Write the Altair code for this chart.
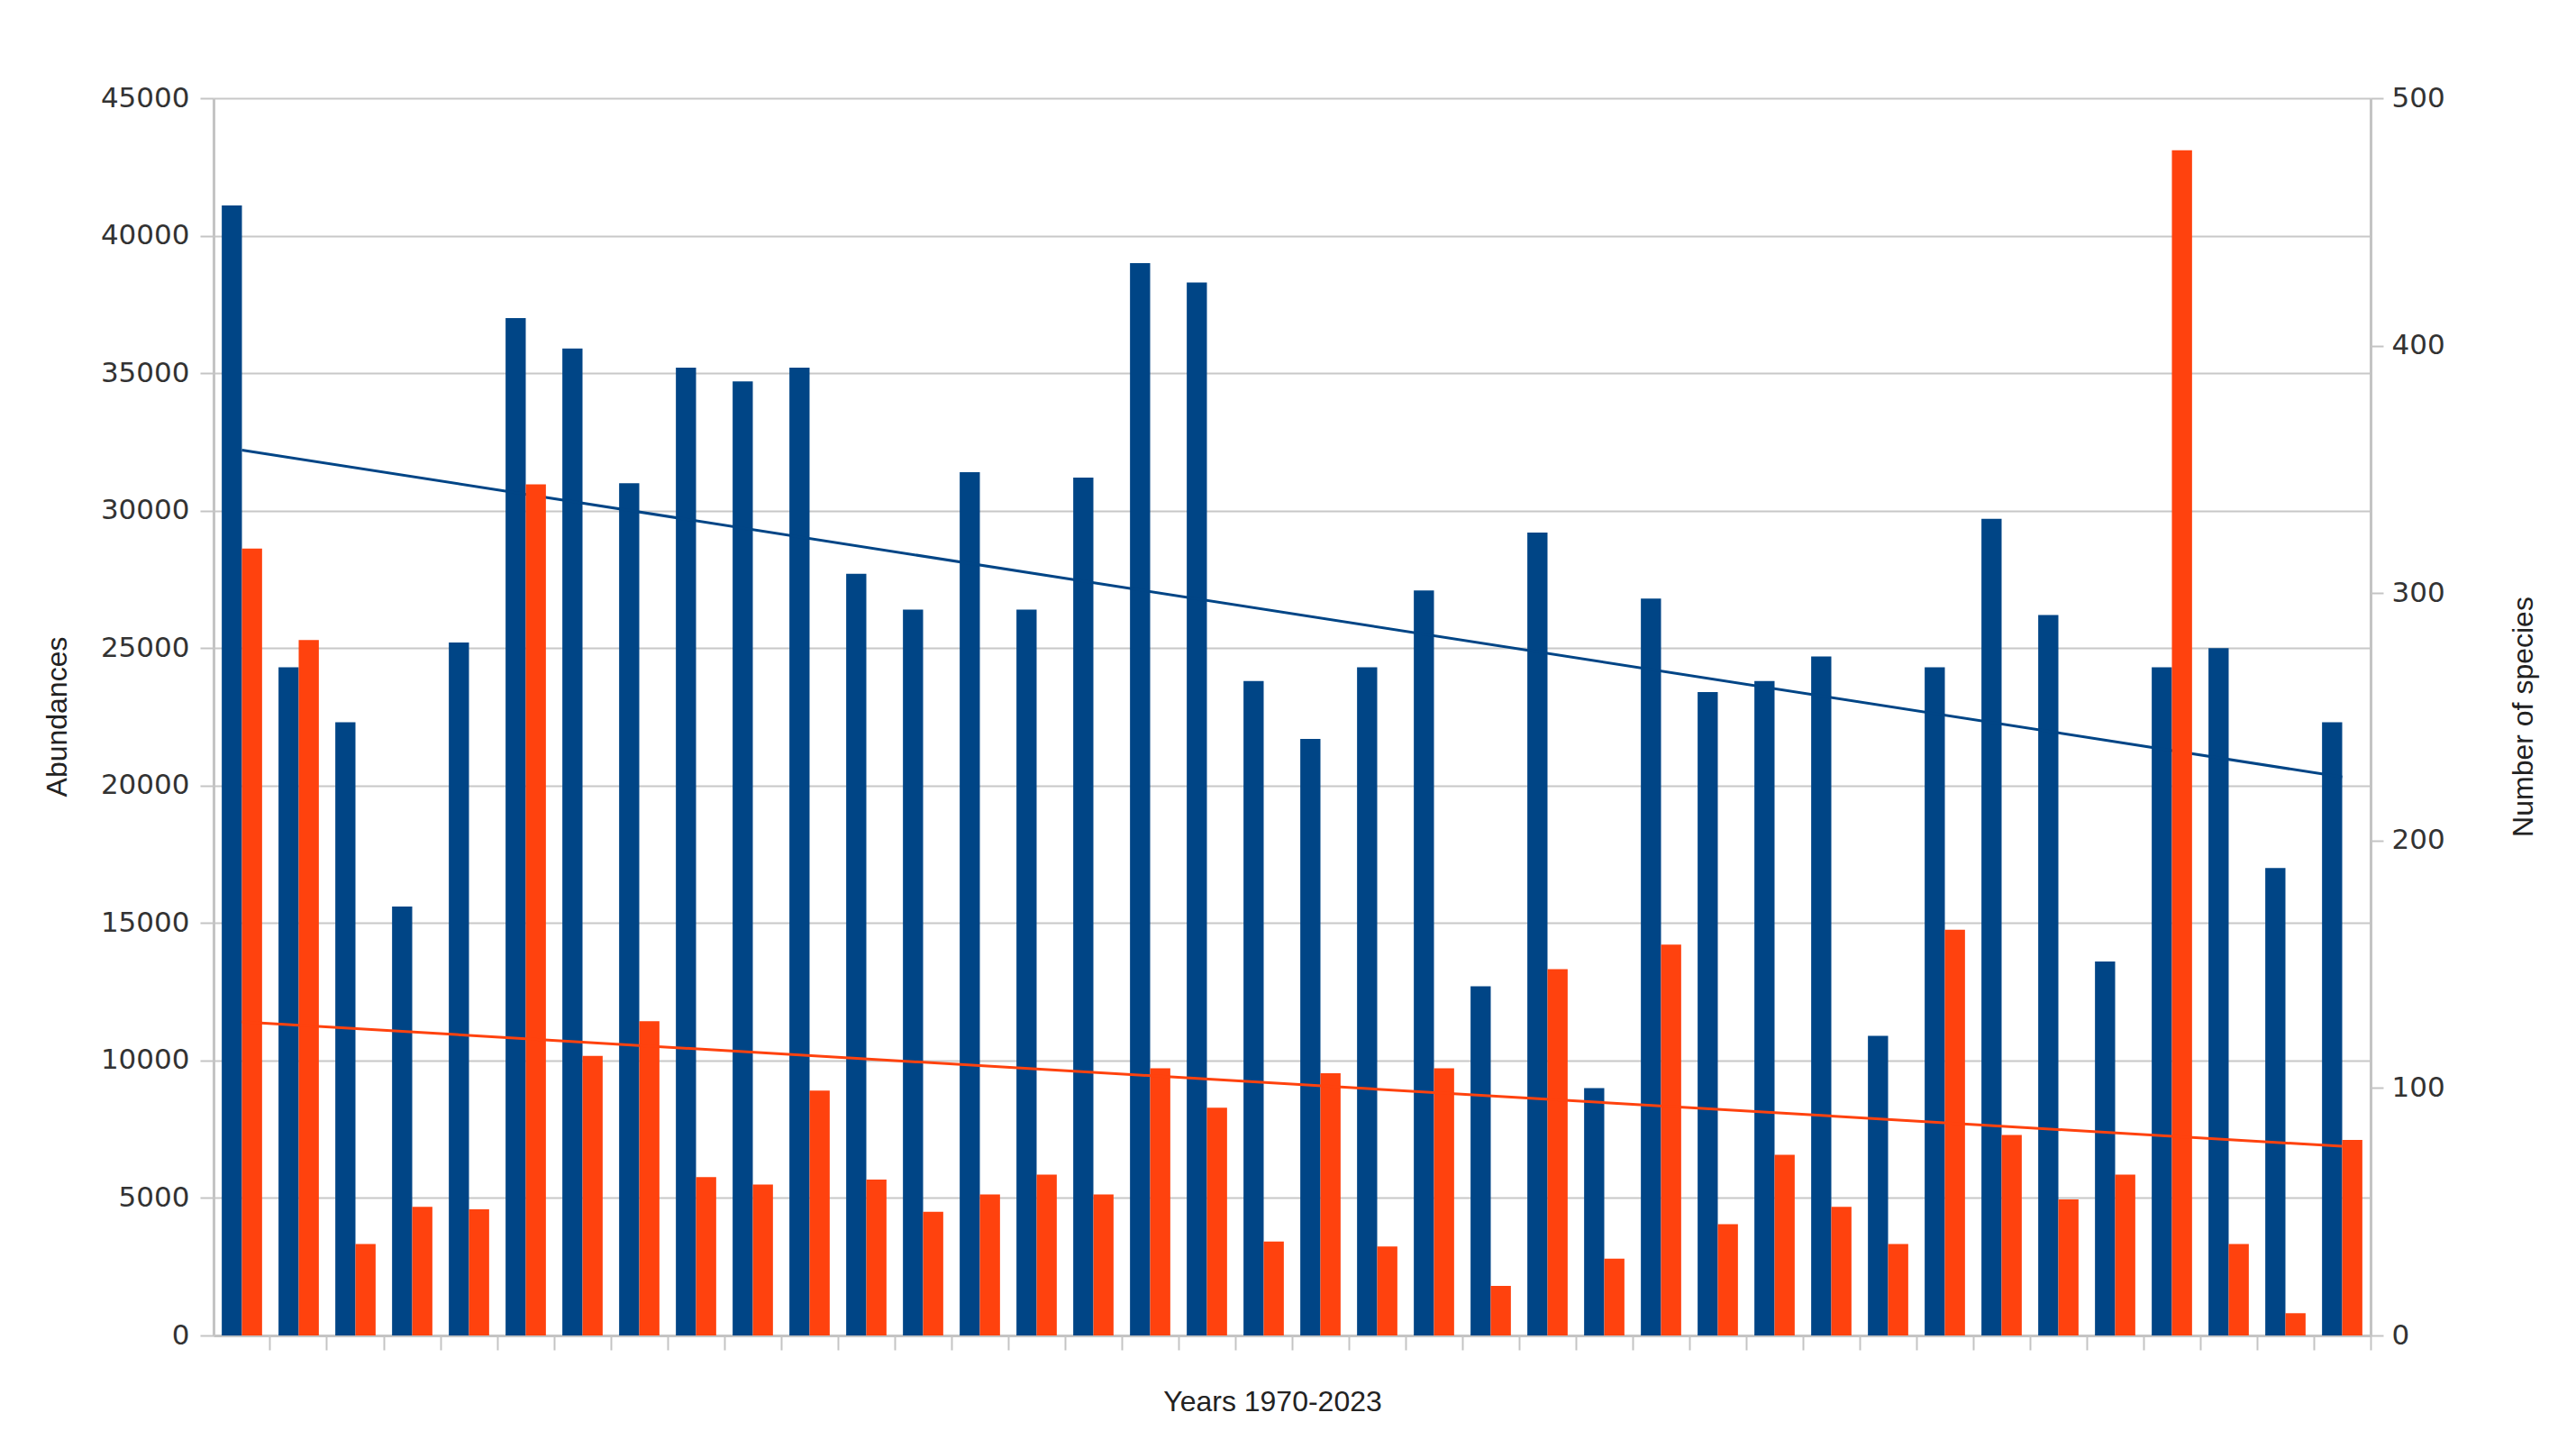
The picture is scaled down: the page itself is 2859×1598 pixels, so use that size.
import altair as alt
import pandas as pd

# 38 yearly groups (1970-2023), no x labels shown on the original
groups = list(range(38))

# Blue series (left axis) - Abundances
abundances = [41100, 24300, 22300, 15600, 25200, 37000, 35900, 31000, 35200, 34700,
              35200, 27700, 26400, 31400, 26400, 31200, 39000, 38300, 23800, 21700,
              24300, 27100, 12700, 29200, 9000, 26800, 23400, 23800, 24700, 10900,
              24300, 29700, 26200, 13600, 24300, 25000, 17000, 22300]

# Orange series (right axis) - Number of species
species = [318, 281, 37, 52, 51, 344, 113, 127, 64, 61,
           99, 63, 50, 57, 65, 57, 108, 92, 38, 106,
           36, 108, 20, 148, 31, 158, 45, 73, 52, 37,
           164, 81, 55, 65, 479, 37, 9, 79]

series_names = ["Abundances", "Number of species"]
left_ticks = [0, 5000, 10000, 15000, 20000, 25000, 30000, 35000, 40000, 45000]
right_ticks = [0, 100, 200, 300, 400, 500]

BLUE = "#004586"
ORANGE = "#ff420e"
GRID = "#c8c8c8"
AXISC = "#c4c4c4"
LABEL_FONT = "DejaVu Sans"
TITLE_FONT = "Liberation Sans"

PAD_IN = 0.29
PAD_OUT = PAD_IN / 2
BAND_POS = 1 + PAD_OUT / (1 - PAD_IN)

df = pd.DataFrame({"idx": groups, "abund": abundances, "species": species})

x_enc = alt.X(
    "idx:O",
    scale=alt.Scale(paddingInner=PAD_IN, paddingOuter=PAD_OUT),
    axis=alt.Axis(
        labels=False, title="Years 1970-2023", grid=False,
        ticks=True, tickSize=16, tickColor=AXISC, tickWidth=2, bandPosition=BAND_POS,
        domainColor=AXISC, domainWidth=3,
        titleX=1175, titleY=83, titleBaseline="alphabetic",
        titleFont=TITLE_FONT, titleFontSize=32, titleFontWeight="normal", titleColor="#222222",
    ),
)

xoff_enc = alt.XOffset("series:N", scale=alt.Scale(domain=series_names, paddingInner=0, paddingOuter=0))

y_left = alt.Y(
    "abund:Q",
    scale=alt.Scale(domain=[0, 45000], nice=False, zero=True),
    axis=alt.Axis(
        orient="left", values=left_ticks, format="d", title="Abundances",
        grid=True, gridColor=GRID, gridWidth=2,
        tickSize=15, tickColor=AXISC, tickWidth=2, domainColor=AXISC, domainWidth=3,
        labelFont=LABEL_FONT, labelFontSize=31, labelColor="#333333", labelPadding=12,
        titleFont=TITLE_FONT, titleFontSize=32, titleFontWeight="normal", titleColor="#222222",
        titleAngle=270, titleX=-174, titleY=686, titleBaseline="middle", titleAlign="center",
    ),
)

y_right = alt.Y(
    "species:Q",
    scale=alt.Scale(domain=[0, 500], nice=False, zero=True),
    axis=alt.Axis(
        orient="right", values=right_ticks, format="d", title="Number of species",
        grid=False,
        tickSize=14, tickColor=AXISC, tickWidth=2, domainColor=AXISC, domainWidth=3,
        labelFont=LABEL_FONT, labelFontSize=31, labelColor="#333333", labelPadding=9,
        titleFont=TITLE_FONT, titleFontSize=32, titleFontWeight="normal", titleColor="#222222",
        titleAngle=270, titleX=169, titleY=686, titleBaseline="middle", titleAlign="center",
    ),
)

base = alt.Chart(df)

blue_bars = base.transform_calculate(series="'Abundances'").mark_bar(color=BLUE).encode(
    x=x_enc, xOffset=xoff_enc, y=y_left
)
blue_line = base.transform_regression("idx", "abund").mark_line(color=BLUE, strokeWidth=3).encode(
    x=x_enc, y=y_left
)

orange_bars = base.transform_calculate(series="'Number of species'").mark_bar(color=ORANGE).encode(
    x=x_enc, xOffset=xoff_enc, y=y_right
)
orange_line = base.transform_regression("idx", "species").mark_line(color=ORANGE, strokeWidth=3).encode(
    x=x_enc, y=y_right
)

chart = alt.layer(
    alt.layer(blue_bars, blue_line),
    alt.layer(orange_bars, orange_line),
).resolve_scale(y="independent").properties(
    width=2394,
    height=1373,
    padding={"left": 229, "top": 101, "right": 220, "bottom": 100},
    autosize=alt.AutoSizeParams(type="none"),
    background="white",
).configure_view(strokeWidth=0)

chart.save("out.html", embed_options={"renderer": "svg", "actions": False})
